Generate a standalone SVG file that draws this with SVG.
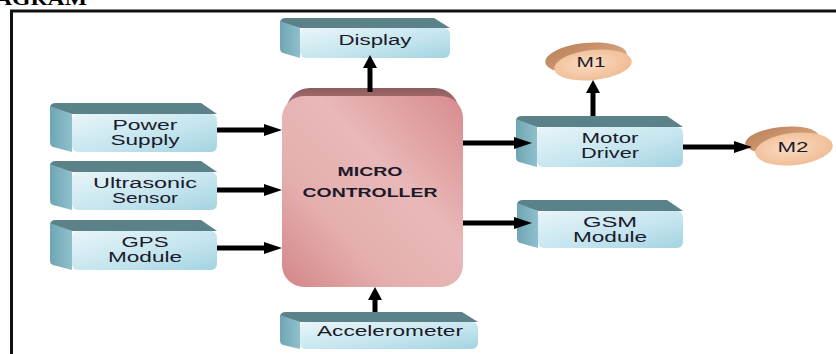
<svg xmlns="http://www.w3.org/2000/svg" width="836" height="354" viewBox="0 0 836 354">
<defs>
<linearGradient id="face" x1="0" y1="0" x2="1" y2="1">
<stop offset="0" stop-color="#e8f5f9"/><stop offset="0.6" stop-color="#c3e4ee"/><stop offset="1" stop-color="#a3d3e1"/>
</linearGradient>
<linearGradient id="side" x1="0" y1="0" x2="1" y2="0">
<stop offset="0" stop-color="#6fa6b3"/><stop offset="1" stop-color="#8fc0cc"/>
</linearGradient>
<linearGradient id="mc" x1="1" y1="0" x2="0" y2="1">
<stop offset="0" stop-color="#d88b8e"/><stop offset="0.4" stop-color="#e9b8b8"/><stop offset="0.7" stop-color="#e4aeae"/><stop offset="1" stop-color="#d48587"/>
</linearGradient>
<linearGradient id="mcrim" x1="0" y1="0" x2="0" y2="1">
<stop offset="0" stop-color="#8d5c5e"/><stop offset="0.1" stop-color="#b27577"/><stop offset="1" stop-color="#c98d8f"/>
</linearGradient>
<radialGradient id="egg" cx="0.45" cy="0.45" r="0.6">
<stop offset="0" stop-color="#fbdcc2"/><stop offset="1" stop-color="#efbb93"/>
</radialGradient>
<linearGradient id="eggb" x1="0" y1="0" x2="1" y2="1">
<stop offset="0" stop-color="#b97e57"/><stop offset="1" stop-color="#e2b28c"/>
</linearGradient>
<marker id="ah" markerUnits="userSpaceOnUse" markerWidth="18" markerHeight="12" refX="2" refY="6" orient="auto">
<path d="M0,0 L18,6 L0,12 Z" fill="#000"/>
</marker>
<marker id="av" markerUnits="userSpaceOnUse" markerWidth="13" markerHeight="14" refX="2" refY="7" orient="auto">
<path d="M0,0 L13,7 L0,14 Z" fill="#000"/>
</marker>
</defs>
<style>
.top{fill:#5b8189}
.side{fill:url(#side)}
.face{fill:url(#face)}
.t{font-family:"Liberation Sans",Arial,sans-serif;font-size:14px;fill:#1a1a2a;text-anchor:middle}
.b{font-family:"Liberation Sans",Arial,sans-serif;font-size:12px;font-weight:bold;fill:#1a1a2a;text-anchor:middle}
.ar{stroke:#000;stroke-width:5;fill:none}
</style>

<text x="-5" y="5" font-family="Liberation Serif,serif" font-weight="bold" font-size="18" textLength="92" lengthAdjust="spacingAndGlyphs" fill="#000">AGRAM</text>
<path d="M11.5,354 L11.5,11 L836,11" fill="none" stroke="#111" stroke-width="3"/>

<g id="power">
<path class="top" d="M50,108 Q50,103 56,103 L201,103 L217,114 L72,114 Z"/>
<path class="side" d="M50,106 L72,114 L72,152 L53,147 Q50,146 50,142 Z"/>
<rect class="face" x="72" y="114" width="145" height="38" rx="6"/>
<text class="t" x="145" y="130" textLength="65" lengthAdjust="spacingAndGlyphs">Power</text>
<text class="t" x="145" y="145" textLength="69" lengthAdjust="spacingAndGlyphs">Supply</text>
</g>
<g id="ultrasonic">
<path class="top" d="M50,166 Q50,161 56,161 L201,161 L217,172 L72,172 Z"/>
<path class="side" d="M50,164 L72,172 L72,210 L53,205 Q50,204 50,200 Z"/>
<rect class="face" x="72" y="172" width="145" height="38" rx="6"/>
<text class="t" x="145" y="188" textLength="104" lengthAdjust="spacingAndGlyphs">Ultrasonic</text>
<text class="t" x="145" y="203" textLength="66" lengthAdjust="spacingAndGlyphs">Sensor</text>
</g>
<g id="gps">
<path class="top" d="M50,225 Q50,220 56,220 L201,220 L217,231 L72,231 Z"/>
<path class="side" d="M50,223 L72,231 L72,270 L53,265 Q50,264 50,260 Z"/>
<rect class="face" x="72" y="231" width="145" height="39" rx="6"/>
<text class="t" x="145" y="247" textLength="47" lengthAdjust="spacingAndGlyphs">GPS</text>
<text class="t" x="145" y="262" textLength="74" lengthAdjust="spacingAndGlyphs">Module</text>
</g>
<g id="display">
<path class="top" d="M280,23 Q280,18 286,18 L434,18 L450,28 L300,28 Z"/>
<path class="side" d="M280,21 L300,28 L300,58 L283,53 Q280,52 280,48 Z"/>
<rect class="face" x="300" y="28" width="150" height="30" rx="6"/>
<text class="t" x="375" y="45" textLength="73" lengthAdjust="spacingAndGlyphs">Display</text>
</g>
<g id="microcontroller">
<rect x="286" y="88" width="173" height="180" rx="24" fill="url(#mcrim)"/>
<rect x="282" y="96" width="181" height="191" rx="22" fill="url(#mc)"/>
<text class="b" x="370" y="176" textLength="65" lengthAdjust="spacingAndGlyphs">MICRO</text>
<text class="b" x="370" y="197" textLength="135" lengthAdjust="spacingAndGlyphs">CONTROLLER</text>
</g>
<g id="motordriver">
<path class="top" d="M516,121 Q516,116 522,116 L667,116 L683,127 L537,127 Z"/>
<path class="side" d="M516,119 L537,127 L537,167 L519,162 Q516,161 516,157 Z"/>
<rect class="face" x="537" y="127" width="146" height="40" rx="6"/>
<text class="t" x="610" y="143" textLength="57" lengthAdjust="spacingAndGlyphs">Motor</text>
<text class="t" x="610" y="158" textLength="58" lengthAdjust="spacingAndGlyphs">Driver</text>
</g>
<g id="gsm">
<path class="top" d="M517,205 Q517,200 523,200 L667,200 L683,211 L538,211 Z"/>
<path class="side" d="M517,203 L538,211 L538,248 L520,243 Q517,242 517,238 Z"/>
<rect class="face" x="538" y="211" width="145" height="37" rx="6"/>
<text class="t" x="610" y="227" textLength="54" lengthAdjust="spacingAndGlyphs">GSM</text>
<text class="t" x="610" y="242" textLength="74" lengthAdjust="spacingAndGlyphs">Module</text>
</g>
<g id="accelerometer">
<path class="top" d="M280,317 Q280,312 286,312 L462,312 L478,322 L300,322 Z"/>
<path class="side" d="M280,315 L300,322 L300,349 L283,345 Q280,344 280,340 Z"/>
<rect class="face" x="300" y="322" width="178" height="27" rx="6"/>
<text class="t" x="390" y="336" textLength="146" lengthAdjust="spacingAndGlyphs">Accelerometer</text>
</g>
<g id="m1">
<ellipse cx="586" cy="58" rx="41" ry="15" fill="url(#eggb)" transform="rotate(-6 586 58)"/>
<ellipse cx="593" cy="65" rx="39" ry="15" fill="url(#egg)" transform="rotate(-6 593 65)"/>
<text class="t" x="591" y="67" textLength="29" lengthAdjust="spacingAndGlyphs">M1</text>
</g>
<g id="m2">
<ellipse cx="782" cy="140" rx="37" ry="13" fill="url(#eggb)" transform="rotate(-6 782 140)"/>
<ellipse cx="794" cy="149" rx="39" ry="16" fill="url(#egg)" transform="rotate(-6 794 149)"/>
<text class="t" x="793" y="152" textLength="31" lengthAdjust="spacingAndGlyphs">M2</text>
</g>

<g id="connectors">
<line class="ar" x1="217" y1="130" x2="266" y2="130" marker-end="url(#ah)"/>
<line class="ar" x1="217" y1="190" x2="266" y2="190" marker-end="url(#ah)"/>
<line class="ar" x1="217" y1="248" x2="266" y2="248" marker-end="url(#ah)"/>
<line class="ar" x1="463" y1="143" x2="516" y2="143" marker-end="url(#ah)"/>
<line class="ar" x1="463" y1="223" x2="516" y2="223" marker-end="url(#ah)"/>
<line class="ar" x1="683" y1="147" x2="736" y2="147" marker-end="url(#ah)"/>
<line class="ar" x1="593" y1="116" x2="593" y2="91" marker-end="url(#av)"/>
<line class="ar" x1="370" y1="92" x2="370" y2="66" marker-end="url(#av)"/>
<line class="ar" x1="375" y1="312" x2="375" y2="298" marker-end="url(#av)"/>
</g>
</svg>
